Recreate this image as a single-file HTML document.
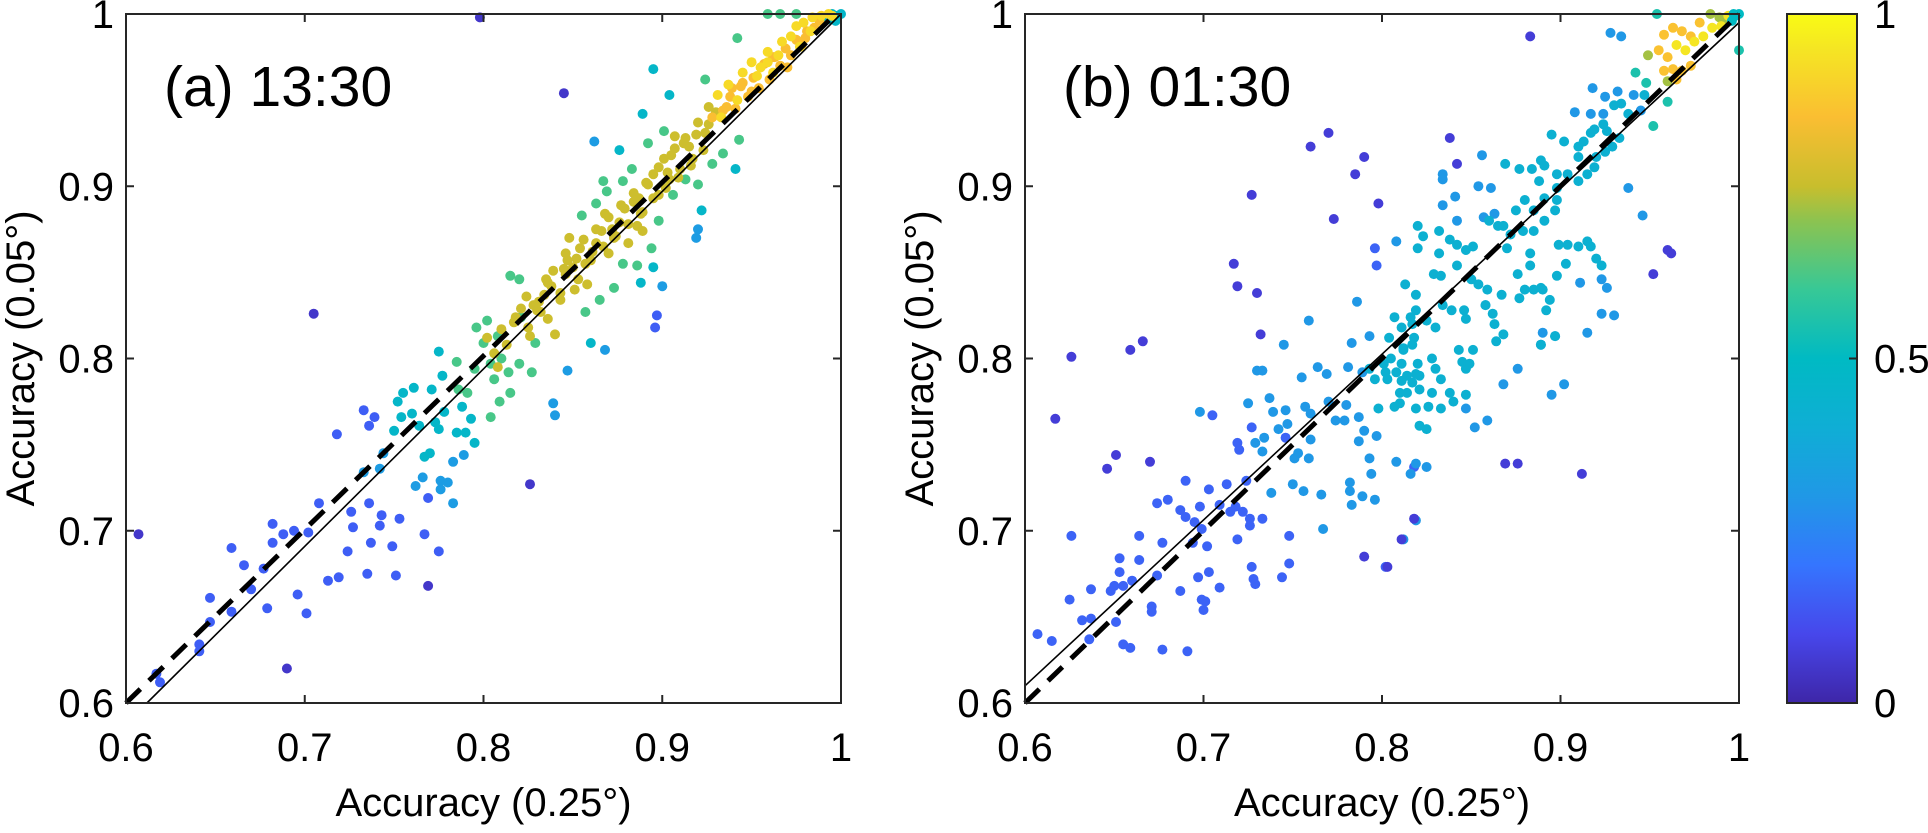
<!DOCTYPE html>
<html><head><meta charset="utf-8"><style>
html,body{margin:0;padding:0;background:#fff;}
svg text{font-family:"Liberation Sans",Arial,sans-serif;fill:#000;}
</style></head><body>
<svg id="chart" width="1928" height="828" viewBox="0 0 1928 828" xmlns="http://www.w3.org/2000/svg">
<defs>
<linearGradient id="parula" x1="0" y1="1" x2="0" y2="0">
<stop offset="0" stop-color="#3e26a8"/><stop offset="0.1" stop-color="#4747eb"/><stop offset="0.2" stop-color="#3575fe"/>
<stop offset="0.3" stop-color="#2098e6"/><stop offset="0.4" stop-color="#0faed5"/><stop offset="0.5" stop-color="#00bac3"/>
<stop offset="0.6" stop-color="#37c896"/><stop offset="0.7" stop-color="#8cc350"/><stop offset="0.75" stop-color="#c8be2d"/>
<stop offset="0.85" stop-color="#fabe32"/><stop offset="0.95" stop-color="#f5e623"/><stop offset="1" stop-color="#f9fb14"/>
</linearGradient>
</defs>
<g id="panelA"></g>
<g id="panelB"></g>
<g id="cbar"></g>
</svg>
<script>
// ---------- data ----------
const ticks = [0.6, 0.7, 0.8, 0.9, 1];
const tickLabels = ["0.6", "0.7", "0.8", "0.9", "1"];
const cbarTicks = [0, 0.5, 1];
const cbarLabels = ["0", "0.5", "1"];
const panelTitles = ["(a) 13:30", "(b) 01:30"];

// panel A groups (color value per group)
const aGroupColor = [0.05, 0.15, 0.32, 0.47, 0.62, 0.76, 0.92, 0.85];
const aDarkX = [0.798,0.845,0.705,0.607,0.826,0.769,0.690];
const aDarkY = [0.998,0.954,0.826,0.698,0.727,0.668,0.620];
const aBlueX = [0.617,0.619,0.641,0.641,0.647,0.647,0.659,0.659,0.666,0.670,0.679,0.677,0.682,0.682,0.688,0.694,0.696,0.701,0.702,0.708,0.713,0.719,0.718,0.724,0.726,0.727,0.735,0.736,0.737,0.733,0.739,0.736,0.743,0.742,0.749,0.751,0.753,0.767,0.775,0.769,0.897,0.896];
const aBlueY = [0.617,0.612,0.630,0.634,0.661,0.647,0.690,0.653,0.680,0.666,0.655,0.678,0.693,0.704,0.698,0.700,0.663,0.652,0.699,0.716,0.671,0.673,0.756,0.688,0.711,0.702,0.675,0.716,0.693,0.770,0.766,0.761,0.709,0.703,0.691,0.674,0.707,0.698,0.688,0.719,0.825,0.818];
const aAzureX = [0.862,0.919,0.920,0.900,0.868,0.847,0.839,0.840,0.766,0.762,0.776,0.780,0.783,0.776,0.783,0.789,0.733,0.742,0.744];
const aAzureY = [0.926,0.870,0.875,0.842,0.805,0.793,0.774,0.767,0.731,0.726,0.729,0.728,0.716,0.724,0.740,0.744,0.734,0.736,0.745];
const aCyanX = [0.895,0.876,0.889,0.904,0.941,0.922,0.895,0.888,0.860,0.750,0.754,0.752,0.755,0.761,0.760,0.764,0.767,0.770,0.771,0.773,0.775,0.777,0.775,0.778,0.785,0.790,0.795,0.793,0.788,0.995,0.998,1.0,0.997,0.993];
const aCyanY = [0.968,0.921,0.942,0.953,0.910,0.886,0.853,0.844,0.809,0.758,0.766,0.775,0.780,0.783,0.768,0.761,0.743,0.745,0.782,0.763,0.759,0.790,0.804,0.769,0.757,0.757,0.751,0.765,0.772,1.0,0.999,1.0,0.996,0.997];
const aGreenX = [0.785,0.786,0.791,0.795,0.796,0.800,0.802,0.804,0.806,0.808,0.810,0.814,0.815,0.809,0.804,0.820,0.815,0.820,0.821,0.827,0.829,0.857,0.865,0.873,0.878,0.886,0.894,0.898,0.906,0.913,0.920,0.928,0.934,0.943,0.867,0.869,0.878,0.855,0.863,0.883,0.892,0.901,0.924,0.942,0.959,0.966,0.975];
const aGreenY = [0.798,0.782,0.780,0.794,0.818,0.809,0.822,0.797,0.788,0.813,0.800,0.792,0.780,0.775,0.766,0.797,0.848,0.846,0.824,0.792,0.809,0.827,0.834,0.841,0.855,0.854,0.864,0.880,0.895,0.904,0.901,0.913,0.919,0.927,0.903,0.897,0.903,0.883,0.890,0.910,0.925,0.932,0.962,0.986,1.0,1.0,1.0];
const aOliveX = [0.818,0.825,0.830,0.834,0.835,0.838,0.836,0.840,0.843,0.846,0.847,0.851,0.854,0.857,0.858,0.863,0.866,0.870,0.873,0.876,0.879,0.881,0.884,0.886,0.889,0.892,0.895,0.898,0.901,0.904,0.907,0.910,0.913,0.917,0.920,0.924,0.926,0.831,0.845,0.852,0.861,0.872,0.887,0.903,0.915];
const aOliveY = [0.824,0.818,0.828,0.837,0.846,0.842,0.823,0.814,0.834,0.849,0.857,0.840,0.864,0.855,0.843,0.867,0.874,0.861,0.870,0.879,0.887,0.867,0.891,0.877,0.885,0.901,0.907,0.895,0.916,0.904,0.922,0.910,0.928,0.916,0.937,0.931,0.946,0.833,0.852,0.858,0.862,0.875,0.893,0.908,0.923];
const aOlive2X = [0.802,0.806,0.810,0.813,0.817,0.821,0.824,0.828,0.832,0.836,0.839,0.843,0.846,0.850,0.853,0.856,0.860,0.863,0.867,0.870,0.874,0.877,0.881,0.884,0.888,0.891,0.895,0.898,0.902,0.905,0.909,0.912,0.916,0.919,0.923,0.926,0.930,0.808,0.826,0.848,0.868,0.889,0.907];
const aOlive2Y = [0.812,0.803,0.817,0.808,0.821,0.829,0.836,0.831,0.827,0.844,0.851,0.838,0.861,0.853,0.846,0.869,0.857,0.875,0.865,0.882,0.871,0.889,0.878,0.896,0.884,0.902,0.893,0.911,0.899,0.918,0.905,0.925,0.912,0.930,0.921,0.936,0.943,0.795,0.813,0.870,0.884,0.874,0.929];
const aYellowX = [0.931,0.933,0.937,0.942,0.945,0.950,0.955,0.959,0.962,0.967,0.972,0.975,0.979,0.984,0.989,0.993,0.995,0.953,0.959,0.965,0.977,0.983];
const aYellowY = [0.953,0.940,0.959,0.950,0.966,0.972,0.969,0.978,0.966,0.984,0.987,0.993,0.995,0.998,0.999,1.0,0.999,0.964,0.972,0.976,0.981,0.990];
const aOrangeX = [0.970,0.945,0.939,0.950,0.928,0.936,0.962,0.980,0.934,0.938,0.941,0.944,0.948,0.951,0.954,0.957,0.960,0.963,0.966,0.969,0.972,0.975,0.978,0.981,0.985,0.988];
const aOrangeY = [0.969,0.960,0.957,0.955,0.940,0.946,0.975,0.986,0.944,0.952,0.945,0.958,0.952,0.963,0.957,0.971,0.962,0.975,0.970,0.980,0.976,0.985,0.982,0.990,0.992,0.996];

// panel B groups
const bGroupColor = [0.07, 0.16, 0.3, 0.42, 0.55, 0.72, 0.86, 0.95];
const bDarkX = [0.617,0.626,0.646,0.651,0.659,0.666,0.670,0.717,0.719,0.727,0.730,0.732,0.760,0.770,0.773,0.785,0.790,0.798,0.790,0.803,0.811,0.818,0.883,0.838,0.842,0.912,0.869,0.876,0.960,0.962,0.952];
const bDarkY = [0.765,0.801,0.736,0.744,0.805,0.810,0.740,0.855,0.842,0.895,0.838,0.814,0.923,0.931,0.881,0.907,0.917,0.890,0.685,0.679,0.695,0.707,0.987,0.928,0.913,0.733,0.739,0.739,0.863,0.861,0.849];
const bBlueX = [0.607,0.615,0.626,0.625,0.632,0.637,0.637,0.636,0.653,0.653,0.648,0.650,0.655,0.651,0.655,0.659,0.660,0.664,0.664,0.671,0.671,0.674,0.674,0.677,0.677,0.680,0.687,0.687,0.690,0.690,0.691,0.694,0.695,0.697,0.698,0.699,0.699,0.700,0.701,0.702,0.703,0.703,0.705,0.709,0.709,0.713,0.715,0.719,0.720,0.719,0.718,0.722,0.724,0.726,0.726,0.727,0.727,0.728,0.729,0.733,0.744,0.748,0.748,0.797,0.796,0.802,0.818,0.746];
const bBlueY = [0.640,0.636,0.697,0.660,0.648,0.649,0.666,0.637,0.684,0.676,0.665,0.668,0.668,0.647,0.634,0.632,0.671,0.697,0.683,0.656,0.653,0.674,0.716,0.693,0.631,0.718,0.665,0.712,0.729,0.708,0.630,0.693,0.705,0.673,0.714,0.701,0.660,0.654,0.659,0.691,0.676,0.724,0.767,0.667,0.715,0.727,0.711,0.751,0.747,0.695,0.714,0.711,0.729,0.707,0.703,0.760,0.679,0.672,0.669,0.707,0.673,0.697,0.681,0.854,0.864,0.679,0.737,0.754];
const bAzureX = [0.698,0.725,0.729,0.730,0.733,0.733,0.734,0.737,0.738,0.739,0.742,0.745,0.746,0.747,0.750,0.751,0.753,0.755,0.756,0.757,0.759,0.759,0.760,0.760,0.764,0.766,0.767,0.769,0.770,0.774,0.779,0.780,0.781,0.782,0.782,0.783,0.783,0.786,0.787,0.787,0.789,0.789,0.790,0.793,0.793,0.794,0.796,0.797,0.808,0.808,0.812,0.816,0.819,0.819,0.928,0.934,0.856,0.834,0.834,0.854,0.861,0.841,0.834,0.842,0.857,0.863,0.946,0.938,0.923,0.930,0.926,0.923,0.911,0.915,0.902,0.895,0.890,0.897,0.889,0.876,0.868,0.852,0.859,0.847,0.825,0.858,0.941,0.925,0.918,0.924,0.917,0.908,0.932,0.945];
const bAzureY = [0.769,0.774,0.751,0.793,0.793,0.746,0.754,0.777,0.722,0.769,0.759,0.808,0.770,0.762,0.727,0.742,0.745,0.789,0.723,0.772,0.742,0.822,0.753,0.768,0.795,0.721,0.701,0.791,0.775,0.764,0.764,0.773,0.795,0.728,0.723,0.715,0.809,0.833,0.766,0.752,0.792,0.720,0.758,0.813,0.742,0.733,0.718,0.755,0.868,0.740,0.695,0.733,0.706,0.739,0.989,0.987,0.918,0.907,0.904,0.900,0.899,0.894,0.889,0.880,0.882,0.884,0.883,0.899,0.826,0.825,0.841,0.846,0.844,0.815,0.785,0.779,0.815,0.813,0.808,0.794,0.785,0.760,0.764,0.771,0.737,0.831,0.953,0.952,0.957,0.942,0.942,0.943,0.955,0.944];
const bCyanX = [0.793,0.796,0.798,0.801,0.803,0.804,0.807,0.808,0.810,0.811,0.812,0.814,0.813,0.816,0.819,0.819,0.818,0.869,0.877,0.884,0.889,0.891,0.895,0.888,0.898,0.902,0.890,0.897,0.889,0.892,0.894,0.889,0.885,0.880,0.877,0.864,0.868,0.863,0.862,0.859,0.854,0.850,0.847,0.842,0.833,0.829,0.832,0.820,0.823,0.820,0.832,0.838,0.842,0.851,0.870,0.872,0.879,0.885,0.891,0.897,0.899,0.904,0.910,0.915,0.917,0.920,0.923,0.903,0.898,0.883,0.883,0.876,0.867,0.858,0.846,0.847,0.839,0.834,0.830,0.825,0.819,0.817,0.817,0.828,0.830,0.833,0.838,0.840,0.847,0.847,0.849,0.845,0.843,0.851,0.833,0.826,0.821,0.825,0.828,0.819,0.820,0.821,0.821,0.817,0.814,0.811,0.810,0.807,0.811,0.805,0.802,0.812,0.910,0.915,0.919,0.920,0.925,0.929,0.933,0.926,0.917,0.913,0.910,0.904,0.898,0.891,0.885,0.880,0.875,0.868,0.865,0.860,0.898,0.910,0.919,0.924,0.930,0.934,0.938,0.947];
const bCyanY = [0.794,0.788,0.771,0.797,0.788,0.812,0.824,0.792,0.774,0.818,0.806,0.780,0.843,0.824,0.837,0.791,0.812,0.913,0.910,0.910,0.915,0.912,0.930,0.903,0.907,0.926,0.840,0.813,0.808,0.828,0.834,0.841,0.840,0.840,0.835,0.810,0.814,0.820,0.826,0.840,0.843,0.846,0.863,0.854,0.848,0.849,0.861,0.864,0.871,0.877,0.874,0.869,0.866,0.865,0.864,0.872,0.874,0.874,0.880,0.886,0.866,0.866,0.865,0.868,0.865,0.858,0.854,0.855,0.848,0.861,0.854,0.849,0.837,0.831,0.828,0.823,0.828,0.831,0.818,0.822,0.828,0.820,0.808,0.800,0.794,0.788,0.780,0.775,0.779,0.794,0.797,0.798,0.805,0.805,0.771,0.772,0.761,0.759,0.780,0.771,0.797,0.790,0.782,0.786,0.790,0.787,0.780,0.772,0.797,0.800,0.792,0.805,0.903,0.907,0.911,0.917,0.920,0.923,0.928,0.932,0.931,0.926,0.923,0.907,0.899,0.893,0.886,0.892,0.886,0.877,0.877,0.880,0.892,0.917,0.933,0.936,0.947,0.948,0.942,0.953];
const bGreenX = [0.954,1.0,0.952,0.942,0.960,0.948];
const bGreenY = [1.0,0.979,0.935,0.966,0.949,0.960];
const bOliveX = [0.949,0.984,0.989,0.960,0.992];
const bOliveY = [0.976,1.0,0.998,0.961,0.995];
const bOrangeX = [0.958,0.963,0.968,0.973,0.978,0.955,0.960,0.958,0.963,0.968,0.973,0.965];
const bOrangeY = [0.988,0.992,0.990,0.987,0.995,0.979,0.975,0.967,0.968,0.967,0.970,0.962];
const bYellowX = [0.965,0.970,0.975,0.980,0.985,0.994,0.990];
const bYellowY = [0.982,0.979,0.984,0.987,0.992,0.999,0.993];
const bTealX = [0.998,1.0,0.996,0.997];
const bTealY = [0.999,1.0,0.996,1.0];

// ---------- rendering ----------
const NS = "http://www.w3.org/2000/svg";
const stops = [[0,[62,38,168]],[0.1,[71,71,235]],[0.2,[53,117,254]],[0.3,[32,152,230]],[0.4,[15,174,213]],[0.5,[0,186,195]],[0.6,[55,200,150]],[0.7,[140,195,80]],[0.75,[200,190,45]],[0.85,[250,190,50]],[0.95,[245,230,35]],[1,[249,251,20]]];
function cmap(v){
  for(let i=1;i<stops.length;i++){ if(v<=stops[i][0]){ const a=stops[i-1],b=stops[i]; const t=(v-a[0])/(b[0]-a[0]);
    return "rgb("+a[1].map((c,k)=>Math.round(c+(b[1][k]-c)*t)).join(",")+")"; } }
  return "rgb(249,251,20)";
}
function el(tag, attrs, parent){ const e=document.createElementNS(NS,tag); for(const k in attrs) e.setAttribute(k,attrs[k]); parent.appendChild(e); return e; }

const Y0=703, Y1=14;
function yScale(v){ return Y0-(v-0.6)/0.4*(Y0-Y1); }

function drawPanel(g, left, right, title, groups, solid, dashed, name){
  const xs = v => left+(v-0.6)/0.4*(right-left);
  const dots = el("g",{},g);
  
  
  groups.forEach(gr=>{
    gr[0].forEach((x,i)=>{
      const c = el("circle",{cx:xs(x).toFixed(1), cy:yScale(gr[1][i]).toFixed(1), r:5, fill:cmap(gr[2])}, dots);
      
      
    });
  });
  const sl = el("line",{x1:xs(solid[0]),y1:yScale(solid[1]),x2:xs(solid[2]),y2:yScale(solid[3]),stroke:"#000","stroke-width":1.6},g);
  
  
  const dl = el("line",{x1:xs(dashed[0]),y1:yScale(dashed[1]),x2:xs(dashed[2]),y2:yScale(dashed[3]),stroke:"#000","stroke-width":5,"stroke-dasharray":"20 12"},g);
  
  
  const box = el("rect",{x:left,y:Y1,width:right-left,height:Y0-Y1,fill:"none",stroke:"#262626","stroke-width":2},g);
  
  
  ticks.forEach((t,i)=>{
    const x=xs(t), y=yScale(t);
    el("line",{x1:x,y1:Y0,x2:x,y2:Y0-8,stroke:"#262626","stroke-width":2},g);
    el("line",{x1:x,y1:Y1,x2:x,y2:Y1+8,stroke:"#262626","stroke-width":2},g);
    el("line",{x1:left,y1:y,x2:left+8,y2:y,stroke:"#262626","stroke-width":2},g);
    el("line",{x1:right,y1:y,x2:right-8,y2:y,stroke:"#262626","stroke-width":2},g);
    const tx = el("text",{x:x,y:761,"font-size":40,"text-anchor":"middle"},g); tx.textContent=tickLabels[i];
    
    
    const ty = el("text",{x:left-12,y:y+14,"font-size":40,"text-anchor":"end"},g); ty.textContent=tickLabels[i];
    
    
  });
  const xl = el("text",{x:(left+right)/2,y:816,"font-size":40,"text-anchor":"middle"},g); xl.textContent="Accuracy (0.25°)";
  
  
  const ylx = left-92, yly=(Y0+Y1)/2;
  const yl = el("text",{x:ylx,y:yly,"font-size":40,"text-anchor":"middle",transform:"rotate(-90 "+ylx+" "+yly+")"},g); yl.textContent="Accuracy (0.05°)";
  
  
  const tt = el("text",{x:left+38,y:106,"font-size":57},g); tt.textContent=title;
  
  
}

drawPanel(document.getElementById("panelA"),126,841,panelTitles[0],[
  [aDarkX,aDarkY,aGroupColor[0]],[aBlueX,aBlueY,aGroupColor[1]],[aAzureX,aAzureY,aGroupColor[2]],[aCyanX,aCyanY,aGroupColor[3]],
  [aGreenX,aGreenY,aGroupColor[4]],[aOliveX,aOliveY,aGroupColor[5]],[aOlive2X,aOlive2Y,aGroupColor[5]],[aOrangeX,aOrangeY,aGroupColor[7]],[aYellowX,aYellowY,aGroupColor[6]]
],[0.6117,0.6,1,1],[0.6,0.6,0.997,1],"panel-a");

drawPanel(document.getElementById("panelB"),1025,1739,panelTitles[1],[
  [bBlueX,bBlueY,bGroupColor[1]],[bAzureX,bAzureY,bGroupColor[2]],[bCyanX,bCyanY,bGroupColor[3]],[bDarkX,bDarkY,bGroupColor[0]],
  [bGreenX,bGreenY,bGroupColor[4]],[bOliveX,bOliveY,bGroupColor[5]],[bOrangeX,bOrangeY,bGroupColor[6]],[bYellowX,bYellowY,bGroupColor[7]],[bTealX,bTealY,0.5]
],[0.6,0.61,1,0.995],[0.6,0.6,1,1],"panel-b");

// colorbar
(function(){
  const g=document.getElementById("cbar");
  const cx0=1787, cx1=1857;
  const r = el("rect",{x:cx0,y:Y1,width:cx1-cx0,height:Y0-Y1,fill:"url(#parula)",stroke:"#262626","stroke-width":2},g);
  
  
  cbarTicks.forEach((t,i)=>{
    const y = Y0-t*(Y0-Y1);
    el("line",{x1:cx1,y1:y,x2:cx1-8,y2:y,stroke:"#262626","stroke-width":2},g);
    const tx = el("text",{x:cx1+17,y:y+14,"font-size":40},g); tx.textContent=cbarLabels[i];
    
    
  });
})();
</script>
</body></html>
